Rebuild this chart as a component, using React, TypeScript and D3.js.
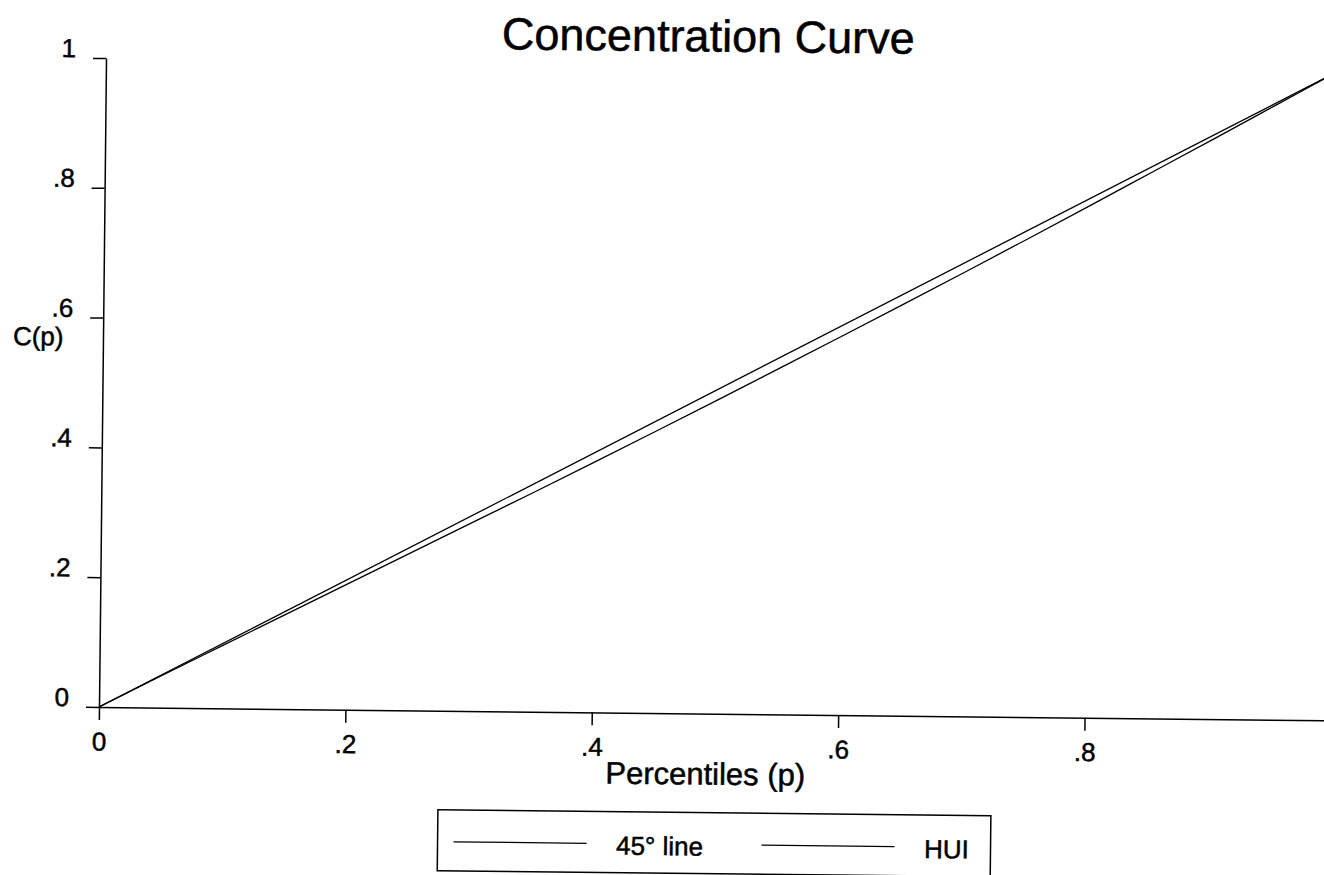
import React, { useEffect, useRef } from 'react';
import * as d3 from 'd3';

// percentiles and the HUI concentration curve
const percentiles = [0, 0.05, 0.1, 0.15, 0.2, 0.25, 0.3, 0.35, 0.4, 0.45, 0.5, 0.55, 0.6, 0.65, 0.7, 0.75, 0.8, 0.85, 0.9, 0.95, 1];
const huiValues = [0, 0.049, 0.097, 0.145, 0.193, 0.241, 0.289, 0.337, 0.3855, 0.4345, 0.484, 0.5338, 0.584, 0.6345, 0.6855, 0.737, 0.789, 0.8415, 0.894, 0.947, 1];
const diagonalP = [0, 1];
const diagonalC = [0, 1];

const xTicks = [0, 0.2, 0.4, 0.6, 0.8];
const xTickLabels = ['0', '.2', '.4', '.6', '.8'];
const yTicks = [0, 0.2, 0.4, 0.6, 0.8, 1];
const yTickLabels = ['0', '.2', '.4', '.6', '.8', '1'];

const legendLabels = ['45° line', 'HUI'];

const FONT = '"Liberation Sans", Arial, Helvetica, sans-serif';

export default function App() {
  const ref = useRef<SVGSVGElement>(null);

  useEffect(() => {
    const width = 1324;
    const height = 875;
    const originX = 99;
    const originY = 707;
    const tilt = 0.62; // the scanned page is slightly rotated

    const svg = d3.select(ref.current);
    svg.selectAll('*').remove();
    svg.attr('width', width).attr('height', height);

    svg.append('rect').attr('width', width).attr('height', height).attr('fill', '#fff');

    const g = svg.append('g')
      .attr('transform', 'rotate(' + tilt + ',' + originX + ',' + originY + ')');

    const x = d3.scaleLinear().domain([0, 1]).range([originX, originX + 1232]);
    const y = d3.scaleLinear().domain([0, 1]).range([originY, originY - 649]);

    // scanned text looks a bit heavier than plain Arial
    const ink = (sel: any, size: number) => sel
      .attr('fill', '#000')
      .attr('stroke', '#000')
      .attr('stroke-width', 0.5)
      .style('font-family', FONT)
      .style('font-size', size + 'px');

    // title
    ink(g.append('text')
      .attr('x', 701)
      .attr('y', 45)
      .attr('text-anchor', 'middle')
      .text('Concentration Curve'), 45);

    // x axis
    const xAxis = d3.axisBottom(x)
      .tickValues(xTicks)
      .tickFormat((d, i) => xTickLabels[i])
      .tickSize(13)
      .tickSizeOuter(0)
      .tickPadding(12);
    const gx = g.append('g').attr('transform', 'translate(0,' + originY + ')').call(xAxis);
    gx.select('.domain').attr('stroke', '#000').attr('stroke-width', 1.5);
    gx.selectAll('.tick line').attr('stroke', '#000').attr('stroke-width', 1.5);
    ink(gx.selectAll('.tick text'), 26);

    // y axis
    const yAxis = d3.axisLeft(y)
      .tickValues(yTicks)
      .tickFormat((d, i) => yTickLabels[i])
      .tickSize(13)
      .tickSizeOuter(0)
      .tickPadding(17);
    const gy = g.append('g').attr('transform', 'translate(' + originX + ',0)').call(yAxis);
    gy.select('.domain').attr('stroke', '#000').attr('stroke-width', 1.5);
    gy.selectAll('.tick line').attr('stroke', '#000').attr('stroke-width', 1.5);
    ink(gy.selectAll('.tick text').attr('dy', '-1'), 26);

    // axis titles
    ink(g.append('text')
      .attr('x', 706)
      .attr('y', 778)
      .attr('text-anchor', 'middle')
      .text('Percentiles (p)'), 31);

    ink(g.append('text')
      .attr('x', 9)
      .attr('y', 346)
      .text('C(p)'), 26);

    // curves
    const diagLine = d3.line<number>()
      .x((d) => x(d))
      .y((d, i) => y(diagonalC[i]));
    g.append('path')
      .attr('d', diagLine(diagonalP))
      .attr('fill', 'none')
      .attr('stroke', '#000')
      .attr('stroke-width', 1.3);

    const huiLine = d3.line<number>()
      .x((d) => x(d))
      .y((d, i) => y(huiValues[i]))
      .curve(d3.curveMonotoneX);
    g.append('path')
      .attr('d', huiLine(percentiles))
      .attr('fill', 'none')
      .attr('stroke', '#000')
      .attr('stroke-width', 1.3);

    // legend
    const legend = g.append('g');
    legend.append('rect')
      .attr('x', 439)
      .attr('y', 806)
      .attr('width', 553)
      .attr('height', 61)
      .attr('fill', 'none')
      .attr('stroke', '#000')
      .attr('stroke-width', 1.5);

    const legendKeyX = [455, 763];
    const legendTextX = [661, 948];
    legendLabels.forEach((label, i) => {
      legend.append('line')
        .attr('x1', legendKeyX[i])
        .attr('x2', legendKeyX[i] + 133)
        .attr('y1', 838)
        .attr('y2', 838)
        .attr('stroke', '#000')
        .attr('stroke-width', 1.2);
      ink(legend.append('text')
        .attr('x', legendTextX[i])
        .attr('y', 849)
        .attr('text-anchor', 'middle')
        .text(label), 26);
    });
  }, []);

  return (
    <svg
      ref={ref}
      style={{ position: 'absolute', left: 0, top: 0, display: 'block' }}
    />
  );
}
